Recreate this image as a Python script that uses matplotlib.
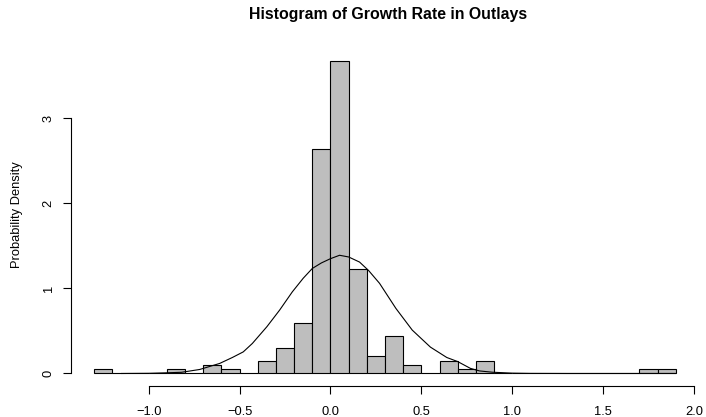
import matplotlib as mpl
mpl.use("Agg")
import matplotlib.pyplot as plt
import numpy as np

mpl.rcParams["font.family"] = "Liberation Sans"

# histogram bins (width 0.1) and densities
bin_edges = [-1.3, -1.2, -1.1, -1.0, -0.9, -0.8, -0.7, -0.6, -0.5, -0.4, -0.3,
             -0.2, -0.1, 0.0, 0.1, 0.2, 0.3, 0.4, 0.5, 0.6, 0.7, 0.8, 0.9,
             1.0, 1.1, 1.2, 1.3, 1.4, 1.5, 1.6, 1.7, 1.8, 1.9]
densities = [0.05, 0, 0, 0, 0.05, 0, 0.10, 0.05, 0, 0.15, 0.30,
             0.59, 2.64, 3.68, 1.23, 0.20, 0.44, 0.10, 0, 0.15, 0.05, 0.15,
             0, 0, 0, 0, 0, 0, 0, 0, 0.05, 0.05]

# smoothed density curve
curve_x = [-1.15, -1.0, -0.9, -0.82, -0.72, -0.61, -0.54, -0.48, -0.43,
           -0.35, -0.28, -0.21, -0.15, -0.10, -0.05, 0.0, 0.05, 0.10, 0.16,
           0.21, 0.27, 0.36, 0.45, 0.55, 0.64, 0.70, 0.77, 0.82, 0.89, 1.0,
           1.1, 1.3, 1.6, 1.9]
curve_y = [0.0, 0.002, 0.008, 0.014, 0.047, 0.118, 0.188, 0.254, 0.353,
           0.55, 0.745, 0.96, 1.12, 1.235, 1.30, 1.35, 1.39, 1.37, 1.31,
           1.21, 1.06, 0.765, 0.51, 0.31, 0.188, 0.14, 0.06,
           0.03, 0.015, 0.004, 0.001, 0.0, 0.0, 0.0]

xticks = [-1.0, -0.5, 0.0, 0.5, 1.0, 1.5, 2.0]
yticks = [0, 1, 2, 3]

W, H = 706, 417
fig = plt.figure(figsize=(W / 100, H / 100), dpi=100)
ax = fig.add_axes([71 / W, 1 - 386 / H, 628 / W, 338 / H])

lefts = np.array(bin_edges[:-1])
widths = np.diff(bin_edges)
ax.bar(lefts, densities, width=widths, align="edge", color="#bebebe",
       edgecolor="black", linewidth=0.8)
ax.plot(curve_x, curve_y, color="black", linewidth=0.8)

lo, hi = bin_edges[0], bin_edges[-1]
pad = 0.04 * (hi - lo)
ax.set_xlim(lo - pad, hi + pad)
ymax = max(densities)
ax.set_ylim(-0.04 * ymax, ymax * 1.04)

for s in ["top", "right"]:
    ax.spines[s].set_visible(False)
ax.spines["bottom"].set_bounds(xticks[0], xticks[-1])
ax.spines["left"].set_bounds(yticks[0], yticks[-1])
ax.spines["bottom"].set_linewidth(0.8)
ax.spines["left"].set_linewidth(0.8)

ax.set_xticks(xticks)
ax.set_xticklabels(["\u22121.0", "\u22120.5", "0.0", "0.5", "1.0", "1.5", "2.0"])
ax.set_yticks(yticks)
ax.tick_params(axis="both", length=5.8, width=0.8, labelsize=9.3)
ax.tick_params(axis="x", pad=8.5)
ax.tick_params(axis="y", labelrotation=90, pad=6)
for lbl in ax.get_yticklabels():
    lbl.set_verticalalignment("center")

fig.text(17 / W, 1 - 215 / H, "Probability Density", rotation=90,
         ha="center", va="center", fontsize=9.3)
fig.text(388 / W, 1 - 15 / H, "Histogram of Growth Rate in Outlays",
         ha="center", va="center", fontsize=11.4, fontweight="bold")

fig.savefig("out.png", dpi=100)
